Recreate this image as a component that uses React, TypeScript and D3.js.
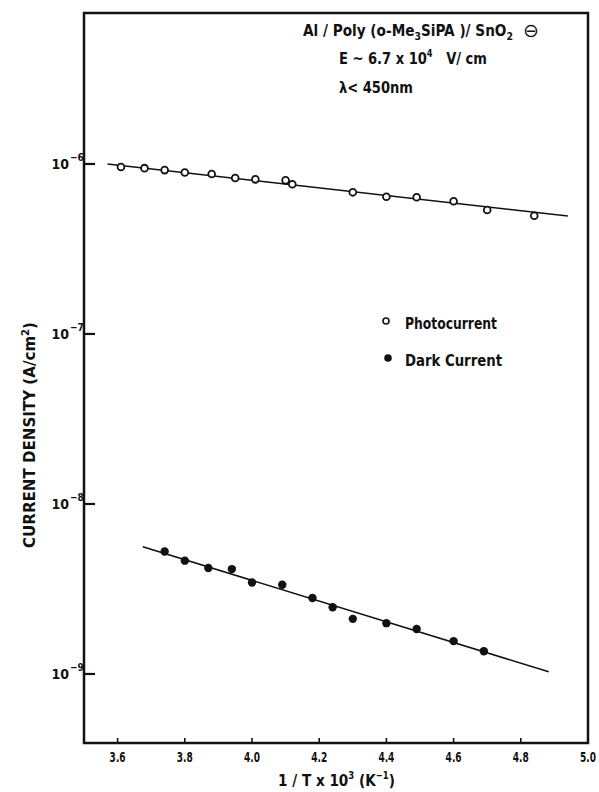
import { useEffect } from 'react';
import * as d3 from 'd3';

// photocurrent (open circles)
const photoX = [3.61, 3.68, 3.74, 3.80, 3.88, 3.95, 4.01, 4.10, 4.12, 4.30, 4.40, 4.49, 4.60, 4.70, 4.84];
const photoY = [9.6e-7, 9.45e-7, 9.2e-7, 8.9e-7, 8.73e-7, 8.27e-7, 8.12e-7, 8.01e-7, 7.59e-7, 6.81e-7, 6.42e-7, 6.37e-7, 6.03e-7, 5.36e-7, 4.96e-7];

// dark current (filled circles)
const darkX = [3.74, 3.80, 3.87, 3.94, 4.00, 4.09, 4.18, 4.24, 4.30, 4.40, 4.49, 4.60, 4.69];
const darkY = [5.25e-9, 4.64e-9, 4.2e-9, 4.14e-9, 3.45e-9, 3.35e-9, 2.8e-9, 2.47e-9, 2.11e-9, 1.99e-9, 1.84e-9, 1.56e-9, 1.36e-9];

// fitted lines (end points)
const photoFitX = [3.57, 4.94];
const photoFitY = [1.0e-6, 4.94e-7];
const darkFitX = [3.675, 4.883];
const darkFitY = [5.6e-9, 1.03e-9];

const xTicks = [3.6, 3.8, 4.0, 4.2, 4.4, 4.6, 4.8, 5.0];
const xTickLabels = ['3.6', '3.8', '4.0', '4.2', '4.4', '4.6', '4.8', '5.0'];
const yTickExp = [-6, -7, -8, -9];

const W = 599;
const H = 792;
const font = '"DejaVu Sans Condensed", "Liberation Sans Narrow", "DejaVu Sans", sans-serif';
const ink = '#111';

export default function App() {
  useEffect(() => {
    document.body.style.margin = '0';
  }, []);

  const x = d3.scaleLinear().domain([3.5, 5.0]).range([84, 588]);
  const y = d3.scaleLog().domain([Math.pow(10, -5.112), Math.pow(10, -9.406)]).range([13, 743]);
  const [x0, x1] = x.range();
  const [y0, y1] = y.range();

  const line = d3.line<[number, number]>()
    .x(d => x(d[0]))
    .y(d => y(d[1]));

  const photoFit = photoFitX.map((v, i) => [v, photoFitY[i]] as [number, number]);
  const darkFit = darkFitX.map((v, i) => [v, darkFitY[i]] as [number, number]);

  return (
    <svg width={W} height={H} style={{ display: 'block', background: '#fff' }} fontFamily={font}>
      {/* frame */}
      <rect x={x0} y={y0} width={x1 - x0} height={y1 - y0} fill="none" stroke={ink} strokeWidth={2.5} />

      {/* y ticks */}
      {yTickExp.map(e => {
        const yy = y(Math.pow(10, e));
        return (
          <g key={e}>
            <line x1={x0} x2={x0 + 11} y1={yy} y2={yy} stroke={ink} strokeWidth={2.2} />
            <text x={69} y={yy + 5} textAnchor="end" fontSize={14} fill={ink} fontWeight="bold">10</text>
            <text x={70} y={yy - 3} fontSize={10} fill={ink} fontWeight="bold">{'\u2212' + Math.abs(e)}</text>
          </g>
        );
      })}

      {/* x ticks */}
      {xTicks.map((t, i) => (
        <g key={t}>
          <line x1={x(t)} x2={x(t)} y1={y1} y2={y1 - 5} stroke={ink} strokeWidth={1.6} />
          <text x={x(t)} y={762} textAnchor="middle" fontSize={14} fill={ink} fontWeight="bold"
            textLength={16} lengthAdjust="spacingAndGlyphs">{xTickLabels[i]}</text>
        </g>
      ))}

      {/* fit lines */}
      <path d={line(photoFit) || ''} fill="none" stroke={ink} strokeWidth={1.6} />
      <path d={line(darkFit) || ''} fill="none" stroke={ink} strokeWidth={1.6} />

      {/* data */}
      {photoX.map((v, i) => (
        <circle key={'p' + i} cx={x(v)} cy={y(photoY[i])} r={3.4} fill="#fff" stroke={ink} strokeWidth={1.8} />
      ))}
      {darkX.map((v, i) => (
        <circle key={'d' + i} cx={x(v)} cy={y(darkY[i])} r={4.2} fill={ink} />
      ))}

      {/* annotation */}
      <text x={303} y={36} fontSize={16} fill={ink} fontWeight="bold" textLength={210} lengthAdjust="spacingAndGlyphs">
        Al / Poly (o-Me<tspan fontSize={11} dy={4}>3</tspan><tspan dy={-4}>SiPA )/ SnO</tspan><tspan fontSize={11} dy={4}>2</tspan>
      </text>
      <text x={531} y={37} fontSize={19} fill={ink} textAnchor="middle" fontFamily='"DejaVu Sans", sans-serif'>⊖</text>
      <text x={339} y={64} fontSize={16} fill={ink} fontWeight="bold" textLength={148} lengthAdjust="spacingAndGlyphs">
        E ~ 6.7 x 10<tspan fontSize={10} dy={-7}>4</tspan><tspan dy={7}>{'\u00a0\u00a0 V/ cm'}</tspan>
      </text>
      <text x={339} y={93} fontSize={16} fill={ink} fontWeight="bold" textLength={74} lengthAdjust="spacingAndGlyphs">
        λ&lt; 450nm
      </text>

      {/* legend */}
      <circle cx={386} cy={321} r={3} fill="#fff" stroke={ink} strokeWidth={1.6} />
      <text x={405} y={329} fontSize={16} fill={ink} fontWeight="bold" textLength={92} lengthAdjust="spacingAndGlyphs">Photocurrent</text>
      <circle cx={388} cy={358} r={3.8} fill={ink} />
      <text x={405} y={366} fontSize={16} fill={ink} fontWeight="bold" textLength={97} lengthAdjust="spacingAndGlyphs">Dark Current</text>

      {/* axis titles */}
      <text x={278} y={786} fontSize={16} fill={ink} fontWeight="bold" textLength={117} lengthAdjust="spacingAndGlyphs">
        1 / T x 10<tspan fontSize={10} dy={-7}>3</tspan><tspan dy={7}> (K</tspan><tspan fontSize={10} dy={-7}>{'\u22121'}</tspan><tspan dy={7}>)</tspan>
      </text>
      <text transform="translate(35,435) rotate(-90)" textAnchor="middle" fontSize={15} fill={ink} fontWeight="bold"
        textLength={226} lengthAdjust="spacingAndGlyphs">
        CURRENT  DENSITY  (A/cm<tspan fontSize={10} dy={-6}>2</tspan><tspan dy={6}>)</tspan>
      </text>
    </svg>
  );
}
